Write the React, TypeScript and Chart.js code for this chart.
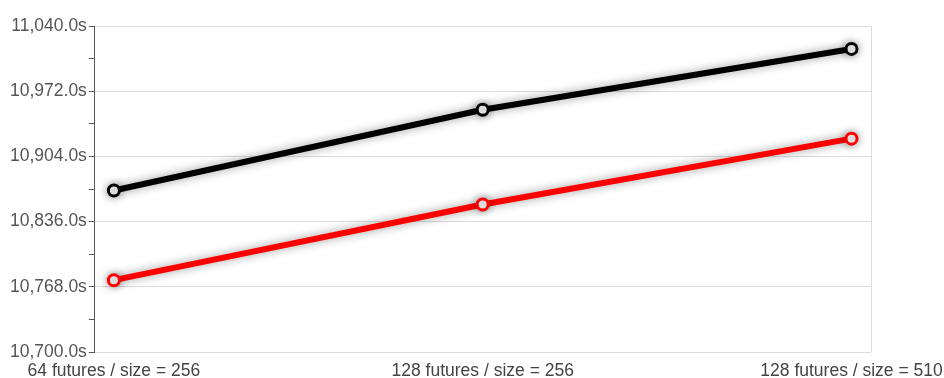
import React, { useEffect, useRef } from "react";
import { Chart, registerables } from "chart.js";

Chart.register(...registerables);

const categories = ["64 futures / size = 256", "128 futures / size = 256", "128 futures / size = 510"];
const blackSeries = [10868.4, 10952.7, 11016.1];
const redSeries = [10774.9, 10853.9, 10922.5];
const yMin = 10700;
const yMax = 11040;
const yMajorStep = 68;
const yMinorStep = 34;
const fontFamily = "'Liberation Sans', Arial, Helvetica, sans-serif";

const shadowPlugin = {
  id: "lineShadow",
  beforeDatasetsDraw(chart: any) {
    const ctx = chart.ctx;
    ctx.save();
    ctx.shadowColor = "rgba(0,0,0,0.4)";
    ctx.shadowBlur = 10;
    ctx.shadowOffsetX = 0;
    ctx.shadowOffsetY = 0;
  },
  afterDatasetsDraw(chart: any) {
    chart.ctx.restore();
  },
};

const borderPlugin = {
  id: "rightBorder",
  beforeDatasetsDraw(chart: any) {
    const { ctx, chartArea } = chart;
    ctx.save();
    ctx.strokeStyle = "#dddddd";
    ctx.lineWidth = 1;
    ctx.beginPath();
    ctx.moveTo(Math.round(chartArea.right) + 0.5, chartArea.top);
    ctx.lineTo(Math.round(chartArea.right) + 0.5, chartArea.bottom);
    ctx.stroke();
    ctx.restore();
  },
};

export default function App() {
  const ref = useRef<HTMLCanvasElement | null>(null);
  useEffect(() => {
    document.body.style.margin = "0";
    const toPts = (arr: number[]) => arr.map((v, i) => ({ x: i, y: v }));
    const chart = new Chart(ref.current as HTMLCanvasElement, {
      type: "line",
      data: {
        datasets: [
          {
            data: toPts(blackSeries),
            borderColor: "#000000",
            borderWidth: 6,
            pointRadius: 5.5,
            pointBorderWidth: 3,
            pointBackgroundColor: "#ffffff",
            pointBorderColor: "#000000",
            tension: 0,
          },
          {
            data: toPts(redSeries),
            borderColor: "#ff0000",
            borderWidth: 6,
            pointRadius: 5.5,
            pointBorderWidth: 3,
            pointBackgroundColor: "#ffffff",
            pointBorderColor: "#ff0000",
            tension: 0,
          },
        ],
      },
      plugins: [borderPlugin, shadowPlugin],
      options: {
        animation: false,
        responsive: true,
        maintainAspectRatio: false,
        layout: { padding: { top: 26, left: 8, right: 11, bottom: -5 } },
        plugins: { legend: { display: false }, tooltip: { enabled: false } },
        scales: {
          x: {
            type: "linear",
            min: -0.0516,
            max: 2.0516,
            afterBuildTicks: (axis: any) => {
              axis.ticks = categories.map((_, i) => ({ value: i }));
            },
            grid: { display: false },
            border: { display: true, color: "#dddddd" },
            ticks: {
              autoSkip: false,
              maxRotation: 0,
              padding: 1,
              color: "#444444",
              font: { family: fontFamily, size: 17.5 },
              callback: (v: any) => categories[v as number] ?? "",
            },
          },
          y: {
            min: yMin,
            max: yMax,
            ticks: {
              stepSize: yMinorStep,
              autoSkip: false,
              padding: 2,
              color: "#555555",
              font: { family: fontFamily, size: 17.5 },
              callback: (v: any) =>
                (Number(v) - yMin) % yMajorStep === 0
                  ? Number(v).toLocaleString("en-US", { minimumFractionDigits: 1, maximumFractionDigits: 1 }) + "s"
                  : "",
            },
            grid: {
              color: (c: any) => ((c.tick.value - yMin) % yMajorStep === 0 ? "#dddddd" : "rgba(0,0,0,0)"),
              tickColor: "#555555",
              tickLength: 6,
              drawTicks: true,
            },
            border: { display: true, color: "#555555", width: 1 },
          },
        },
      },
    });
    return () => chart.destroy();
  }, []);
  return (
    <div style={{ position: "fixed", left: 0, top: 0, width: 944, height: 378 }}>
      <canvas ref={ref} />
    </div>
  );
}
